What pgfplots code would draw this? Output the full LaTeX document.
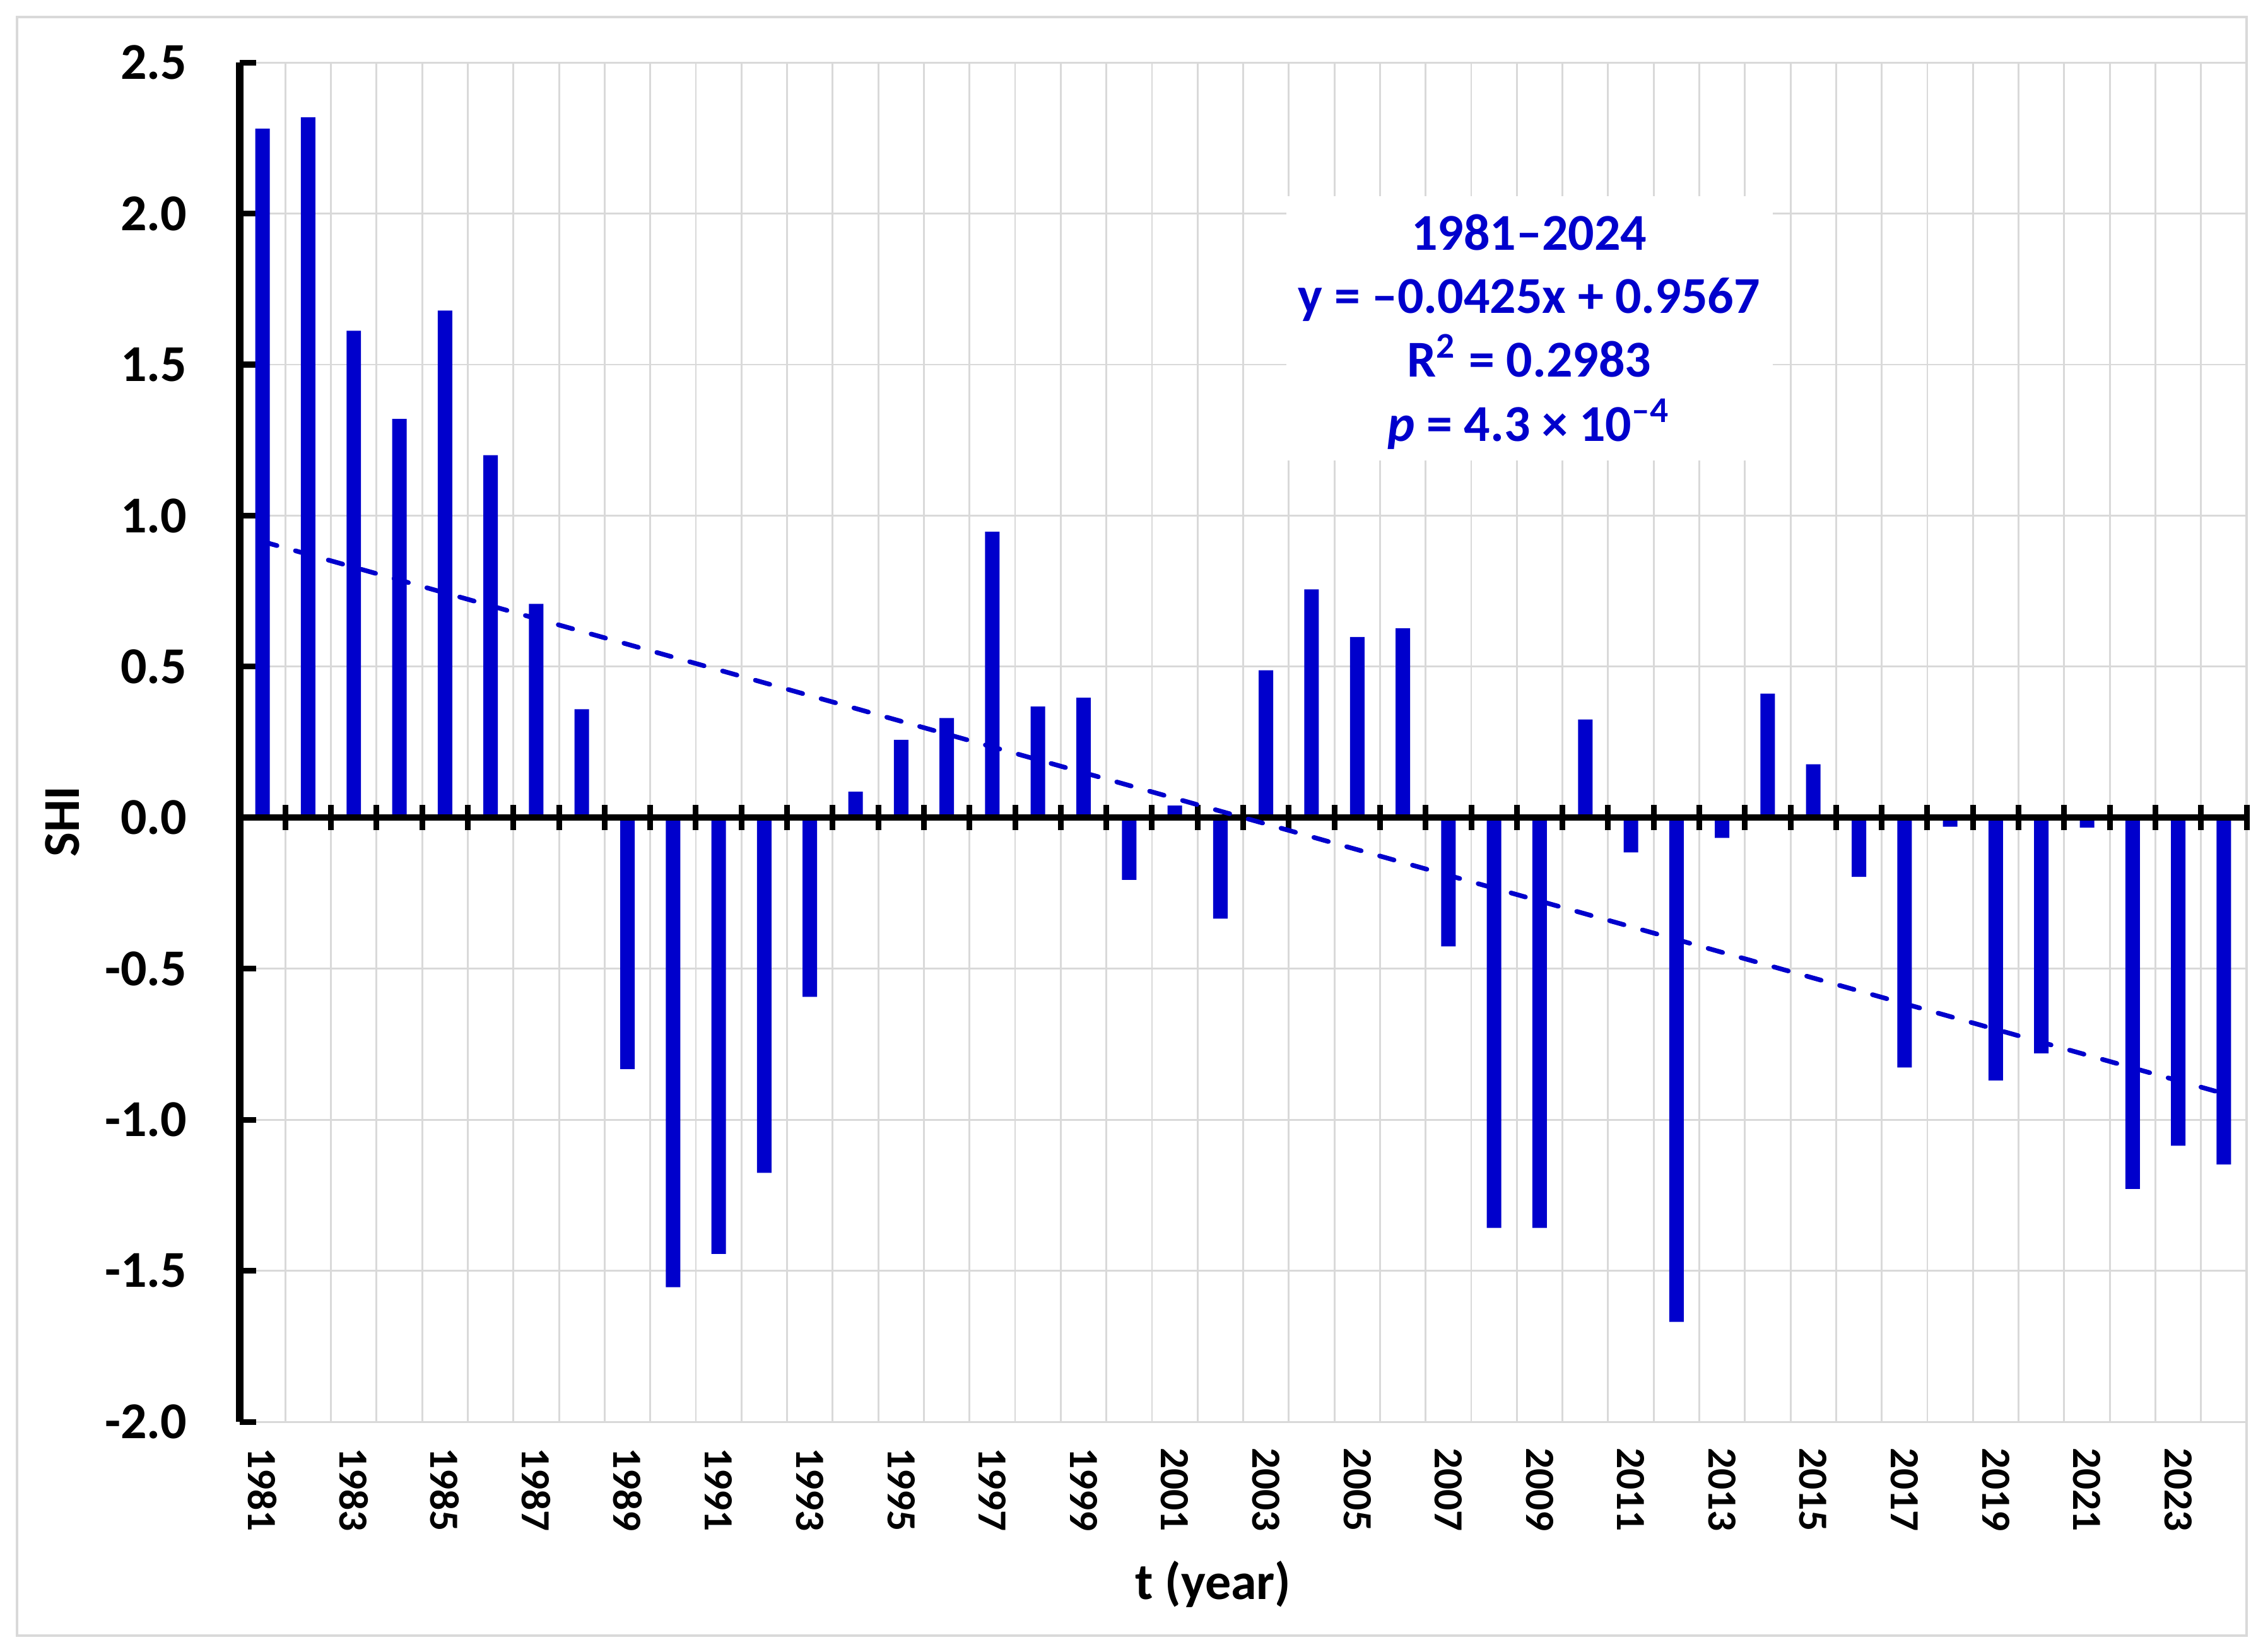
\documentclass[border=0pt]{standalone}
\usepackage{fontspec}
\setmainfont{Carlito}
\usepackage{pgfplots}
\pgfplotsset{compat=1.18}
\usepackage{pgfplotstable}
\definecolor{barblue}{RGB}{0,0,204}
\definecolor{gridgray}{RGB}{217,217,217}

\pgfplotstableread{
x y
1 2.281
2 2.319
3 1.612
4 1.320
5 1.679
6 1.200
7 0.708
8 0.359
9 -0.832
10 -1.554
11 -1.444
12 -1.176
13 -0.593
14 0.086
15 0.258
16 0.330
17 0.947
18 0.368
19 0.397
20 -0.206
21 0.040
22 -0.334
23 0.488
24 0.756
25 0.598
26 0.627
27 -0.426
28 -1.358
29 -1.358
30 0.325
31 -0.115
32 -1.669
33 -0.067
34 0.411
35 0.177
36 -0.196
37 -0.827
38 -0.030
39 -0.870
40 -0.780
41 -0.033
42 -1.229
43 -1.086
44 -1.148
}\shidata

\begin{document}
\begin{tikzpicture}[x=1pt,y=1pt]
\useasboundingbox (0,0) rectangle (437.6,319.4);
\draw[gridgray, line width=0.4pt] (3.29,3.05) rectangle (434.44,316.1);
\begin{axis}[
  at={(46.36pt,44.41pt)}, anchor=south west,
  scale only axis, width=388.08pt, height=262.9pt,
  xmin=0.5, xmax=44.5, ymin=-2, ymax=2.5,
  axis x line*=bottom, axis y line*=left,
  x axis line style={draw=none},
  y axis line style={line width=1.5pt, black},
  tick align=inside,
  major tick length=3.2pt,
  minor tick length=0pt,
  xtick={1,3,...,43},
  xticklabels={1981,1983,1985,1987,1989,1991,1993,1995,1997,1999,2001,2003,2005,2007,2009,2011,2013,2015,2017,2019,2021,2023},
  xtick style={draw=none},
  minor xtick={0.5,1.5,...,44.5},
  xminorgrids, ymajorgrids,
  minor grid style={gridgray, line width=0.35pt},
  major grid style={gridgray, line width=0.35pt},
  ytick={-2,-1.5,-1,-0.5,0,0.5,1,1.5,2,2.5},
  yticklabels={-2.0,-1.5,-1.0,-0.5,0.0,0.5,1.0,1.5,2.0,2.5},
  ytick style={line width=1.1pt, black},
  yticklabel style={font=\bfseries\fontsize{10}{12}\selectfont, anchor=east, inner xsep=10pt, inner ysep=0pt},
  xticklabel style={font=\bfseries\fontsize{8}{9.6}\selectfont, rotate=-90, anchor=west, inner xsep=4.8pt, inner ysep=0pt},
]
\addplot[ybar, bar shift=0pt, bar width=0.318, fill=barblue, draw=none] table[x=x,y=y]{\shidata};
\end{axis}
\begin{axis}[
  at={(46.36pt,44.41pt)}, anchor=south west,
  scale only axis, width=388.08pt, height=262.9pt,
  xmin=0.5, xmax=44.5, ymin=-2, ymax=2.5,
  axis x line*=middle, axis y line=none,
  x axis line style={line width=1.2pt, black},
  tick align=center,
  major tick length=4.9pt,
  xtick={0.5,1.5,...,44.5}, xticklabels={},
  xtick style={line width=1.1pt, black},
  ytick=\empty,
]
\addplot[barblue, line width=0.9pt, line cap=round, dash pattern=on 2.9pt off 3.7pt] coordinates {(1,0.9142) (44,-0.9133)};
\end{axis}
\fill[white] (248.8,230.3) rectangle (342.8,281.45);
\node[anchor=base, text=barblue, font=\bfseries, inner sep=0pt] at (295.7,271.08) {1981–2024};
\node[anchor=base, text=barblue, font=\bfseries, inner sep=0pt] at (295.7,258.88) {y = –0.0425x + 0.9567};
\node[anchor=base, text=barblue, font=\bfseries, inner sep=0pt] at (295.7,246.56) {R\textsuperscript{2} = 0.2983};
\node[anchor=base, text=barblue, font=\bfseries, inner sep=0pt] at (295.7,234.12) {\textit{p} = 4.3 × 10\textsuperscript{–4}};
\node[rotate=90, font=\bfseries, inner sep=0pt] at (12.08,160.5) {SHI};
\node[anchor=base, font=\bfseries, inner sep=0pt] at (234.6,10.13) {t (year)};
\end{tikzpicture}
\end{document}
